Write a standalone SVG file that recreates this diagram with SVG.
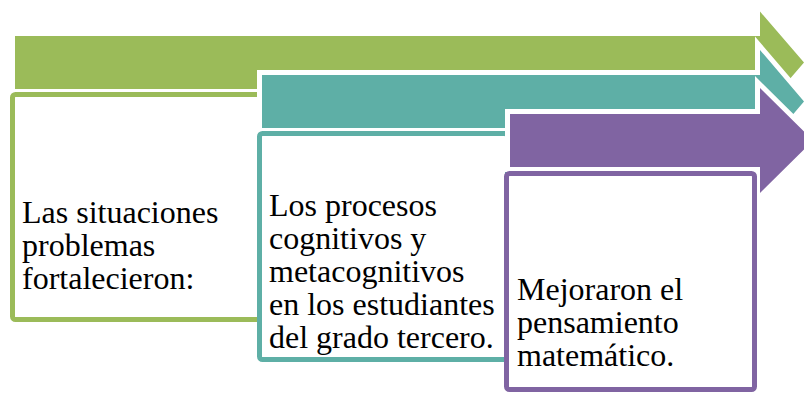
<svg xmlns="http://www.w3.org/2000/svg" width="804" height="393" viewBox="0 0 804 393">
<style>
.arrow{stroke:#ffffff;stroke-width:10;stroke-linejoin:miter;paint-order:stroke}
.box{fill:#ffffff;stroke-width:5}
.lbl{font-family:"Liberation Serif","Times New Roman",serif;font-size:32px;fill:#000000}
.g{fill:#9BBB59}.gs{stroke:#9BBB59}
.t{fill:#5EAFA6}.ts{stroke:#5EAFA6}
.p{fill:#8064A2}.ps{stroke:#8064A2}
</style>
<rect width="804" height="393" fill="#ffffff"/>
<g id="node1">
<path class="arrow g" d="M15,36 H760 V11.5 L804,62.5 L760,113.5 V89 H15 Z"/>
<rect class="box gs" x="12.5" y="94.5" width="248" height="225" rx="3"/>
<text class="lbl" x="22" y="223">Las situaciones</text>
<text class="lbl" x="22" y="256">problemas</text>
<text class="lbl" x="22" y="289">fortalecieron:</text>
</g>
<g id="node2">
<path class="arrow t" d="M262,75 H760 V50 L804,101.5 L760,153 V128 H262 Z"/>
<rect class="box ts" x="259.5" y="133.5" width="248" height="226" rx="3"/>
<text class="lbl" x="269" y="215.5">Los procesos</text>
<text class="lbl" x="269" y="248.5">cognitivos y</text>
<text class="lbl" x="269" y="281.5">metacognitivos</text>
<text class="lbl" x="269" y="314.5">en los estudiantes</text>
<text class="lbl" x="269" y="347.5">del grado tercero.</text>
</g>
<g id="node3">
<path class="arrow p" d="M510,114 H760 V88 L813,140.5 L760,193 V167 H510 Z"/>
<rect class="box ps" x="506.5" y="173.5" width="248" height="216" rx="3"/>
<text class="lbl" x="517" y="300">Mejoraron el</text>
<text class="lbl" x="517" y="333">pensamiento</text>
<text class="lbl" x="517" y="366">matemático.</text>
</g>
</svg>
